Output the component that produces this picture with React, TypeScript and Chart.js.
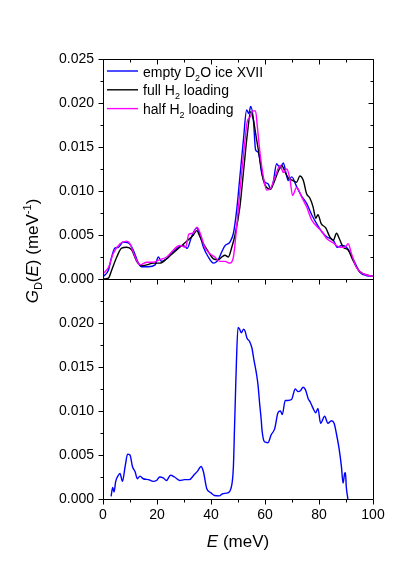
import React, { useEffect, useRef } from "react";
import { Chart, registerables } from "chart.js";

Chart.register(...registerables);

const FONT = '"Liberation Sans", Arial, Helvetica, sans-serif';

// ---- data (E in meV, G_D(E) in meV^-1) ----
const emptyTopE = [0, 2, 3.2, 4.4, 5.7, 7.5, 9.4, 11.2, 13.1, 14.3, 16.8, 19.3, 20.5, 21.7, 23.6, 25.4, 27.9, 29.7, 31.2, 32.8, 34.7, 35.9, 37.2, 39, 40.9, 42.7, 44, 45.2, 47, 48.3, 49.5, 50.7, 52, 53.2, 54, 54.7, 55.7, 56.5, 57.5, 58.8, 60, 61.2, 62.1, 63.1, 64.3, 65.6, 66.8, 67.8, 68.6, 69.9, 71.7, 73.6, 75.4, 77.3, 79.1, 81, 82.8, 85.3, 86.8, 88.4, 90.2, 92.6, 95.1, 97.5, 100];
const emptyTopG = [0.00026, 0.001, 0.0025, 0.0035, 0.0036, 0.0042, 0.0041, 0.0033, 0.0018, 0.0014, 0.0014, 0.0016, 0.0025, 0.002, 0.0023, 0.0029, 0.0036, 0.0038, 0.0035, 0.0048, 0.0058, 0.005, 0.0036, 0.0025, 0.0018, 0.0022, 0.0031, 0.0038, 0.0042, 0.0052, 0.0078, 0.0116, 0.0158, 0.0192, 0.0188, 0.0196, 0.0181, 0.0147, 0.0144, 0.012, 0.011, 0.0108, 0.0102, 0.0111, 0.0131, 0.0126, 0.0132, 0.012, 0.0112, 0.0116, 0.0105, 0.0094, 0.0086, 0.0073, 0.0063, 0.0054, 0.0048, 0.0044, 0.0036, 0.0038, 0.0036, 0.0023, 0.0008, 0.0004, 0.0003];

const fullE = [0, 2, 3.2, 5.1, 6.9, 8.8, 10.6, 12.5, 14.3, 16.2, 18.6, 21, 23.6, 26.1, 28.4, 31, 33.5, 34.7, 35.9, 37.2, 39, 40.9, 42.7, 44, 45.2, 46.4, 47.7, 48.9, 50.7, 52.2, 53.5, 54.7, 55.7, 56.7, 57.9, 59.4, 60.6, 61.9, 63.1, 65, 66.2, 67.5, 68.6, 70.2, 71.7, 72.9, 74.2, 75.4, 76.6, 77.8, 78.8, 79.6, 80.8, 82.5, 84, 85.3, 86.5, 87.5, 89, 90.8, 92.6, 94.6, 96.3, 100];
const fullG = [0, 0.0001, 0.001, 0.0025, 0.0035, 0.0036, 0.0033, 0.002, 0.0015, 0.0016, 0.0018, 0.0018, 0.0023, 0.003, 0.0036, 0.0043, 0.005, 0.0055, 0.0048, 0.004, 0.0031, 0.0023, 0.0022, 0.0025, 0.0027, 0.0025, 0.0036, 0.005, 0.0082, 0.0127, 0.0166, 0.019, 0.0181, 0.0162, 0.014, 0.0112, 0.0104, 0.0102, 0.0108, 0.0123, 0.0129, 0.0121, 0.0115, 0.0112, 0.011, 0.0117, 0.0112, 0.0097, 0.0092, 0.0082, 0.0069, 0.0073, 0.0063, 0.0058, 0.0048, 0.0044, 0.0052, 0.0046, 0.0036, 0.0033, 0.0021, 0.001, 0.0006, 0.0003];

const halfE = [0, 2, 3.8, 6.3, 8.8, 10, 11.9, 13.7, 16.2, 18.6, 21, 23.6, 26.1, 28.4, 30.6, 31.8, 33.3, 34.8, 36.1, 37.7, 39.5, 41.4, 43.3, 45.2, 47, 48.3, 49.5, 50.7, 52.2, 53.5, 54.5, 55.5, 56.5, 57.2, 58.2, 59.4, 60.6, 62.1, 63.7, 65.6, 66.8, 68.1, 69.3, 70.2, 71.7, 73.6, 75.4, 77.3, 79.1, 81, 82.8, 85.3, 87.7, 89.5, 90.8, 92, 93.9, 96.3, 100];
const halfG = [0.0006, 0.0013, 0.0029, 0.004, 0.0043, 0.004, 0.0025, 0.0016, 0.0019, 0.0019, 0.0022, 0.0025, 0.0033, 0.0038, 0.0036, 0.0051, 0.0052, 0.0059, 0.0051, 0.0036, 0.0029, 0.0025, 0.002, 0.002, 0.0018, 0.0025, 0.0059, 0.01, 0.0146, 0.018, 0.0184, 0.0191, 0.0191, 0.0172, 0.0142, 0.0116, 0.0101, 0.0103, 0.0116, 0.0129, 0.0121, 0.0125, 0.0112, 0.0095, 0.0104, 0.0093, 0.0082, 0.0067, 0.006, 0.0054, 0.0046, 0.0041, 0.0036, 0.0036, 0.004, 0.0029, 0.0013, 0.0006, 0.0003];

const emptyBotE = [3.0, 3.6, 4.1, 4.7, 5.7, 6.3, 7.2, 8.2, 9.1, 10, 10.9, 11.9, 12.7, 13.7, 14.9, 16.8, 18.6, 19.8, 21, 22.3, 23.5, 25, 26.5, 28.4, 30.2, 32, 33.6, 35.1, 36.3, 37.2, 38.4, 40, 41.3, 43.1, 44.3, 46.2, 47.4, 48.3, 48.7, 49.0, 49.4, 50, 50.6, 51.2, 52.1, 52.7, 53.3, 54.3, 55.2, 55.9, 56.8, 57.4, 58, 58.6, 58.9, 59.8, 61.1, 62.3, 63.6, 64.8, 65.7, 66.4, 67.5, 68.5, 69.8, 71.2, 72.3, 73.1, 74.1, 75, 76, 76.8, 77.8, 78.8, 79.6, 80.6, 82.1, 83.3, 84.6, 85.6, 86.4, 87.4, 88.3, 88.9, 89.5, 89.8, 90.1, 90.7];
const emptyBotG = [0.0003, 0.0013, 0.0008, 0.002, 0.0027, 0.0029, 0.002, 0.0037, 0.0051, 0.005, 0.0037, 0.0031, 0.0023, 0.0026, 0.0023, 0.0022, 0.002, 0.0021, 0.0025, 0.0024, 0.0021, 0.0027, 0.0025, 0.0021, 0.0022, 0.0022, 0.0027, 0.0032, 0.0037, 0.0031, 0.0012, 0.0007, 0.0004, 0.00035, 0.0006, 0.0007, 0.0012, 0.0037, 0.008, 0.0112, 0.0154, 0.0195, 0.0193, 0.0189, 0.0193, 0.019, 0.0183, 0.0179, 0.0171, 0.0158, 0.0143, 0.013, 0.0109, 0.009, 0.0078, 0.0065, 0.0064, 0.0073, 0.008, 0.0098, 0.01, 0.0096, 0.0112, 0.0112, 0.0113, 0.0125, 0.0122, 0.0123, 0.0127, 0.0124, 0.0114, 0.011, 0.0103, 0.0098, 0.0103, 0.0086, 0.0094, 0.0086, 0.0089, 0.0086, 0.0075, 0.0058, 0.0037, 0.0018, 0.0029, 0.003, 0.0014, 0];

const seriesLabels = ["empty D\u2082O ice XVII", "full H\u2082 loading", "half H\u2082 loading"];
const seriesColors = ["#0000ff", "#000000", "#ff00ff"];
const xTickValues = [0, 10, 20, 30, 40, 50, 60, 70, 80, 90, 100];
const yTickValues = [0, 0.0025, 0.005, 0.0075, 0.01, 0.0125, 0.015, 0.0175, 0.02, 0.0225, 0.025];

// legend parts: [text, isSubscript]
const legendParts: [string, boolean][][] = [
  [["empty D", false], ["2", true], ["O ice XVII", false]],
  [["full H", false], ["2", true], [" loading", false]],
  [["half H", false], ["2", true], [" loading", false]],
];

const pts = (E: number[], G: number[]) => E.map((e, i) => ({ x: e, y: G[i] }));

const framePlugin = {
  id: "frame",
  afterDatasetsDraw(chart: any) {
    const { ctx } = chart;
    const x = chart.scales.x;
    const yT = chart.scales.yTop;
    const yB = chart.scales.yBot;
    const r = (v: number) => Math.round(v) + 0.5;
    const L = r(x.left), R = r(x.right);
    const T = r(yT.top), M = r(yT.bottom), B = r(yB.bottom);
    ctx.save();
    ctx.strokeStyle = "#000";
    ctx.lineWidth = 1;
    ctx.beginPath();
    ctx.rect(L, T, R - L, B - T);
    ctx.moveTo(L, M);
    ctx.lineTo(R, M);
    yTickValues.forEach((v, i) => {
      const len = i % 2 === 0 ? 5 : 3;
      const pt = r(yT.getPixelForValue(v));
      ctx.moveTo(L, pt); ctx.lineTo(L - len, pt);
      ctx.moveTo(R, pt); ctx.lineTo(R - len, pt);
      const pb = r(yB.getPixelForValue(v));
      ctx.moveTo(L, pb); ctx.lineTo(L - len, pb);
    });
    xTickValues.forEach((v, i) => {
      const len = i % 2 === 0 ? 5 : 3;
      const px = r(x.getPixelForValue(v));
      ctx.moveTo(px, B); ctx.lineTo(px, B + len);
      ctx.moveTo(px, M); ctx.lineTo(px, M + len);
      ctx.moveTo(px, T); ctx.lineTo(px, T + len);
    });
    ctx.stroke();

    // legend
    const lx0 = x.left + 4, lx1 = x.left + 35, tx = x.left + 40;
    legendParts.forEach((parts, i) => {
      const ly = yT.top + 12 + i * 18.8;
      ctx.strokeStyle = seriesColors[i];
      ctx.lineWidth = 1.4;
      ctx.beginPath();
      ctx.moveTo(lx0, ly); ctx.lineTo(lx1, ly);
      ctx.stroke();
      let cx = tx;
      ctx.fillStyle = "#000";
      ctx.textBaseline = "alphabetic";
      ctx.textAlign = "left";
      parts.forEach(([t, sub]) => {
        ctx.font = sub ? `9px ${FONT}` : `14px ${FONT}`;
        ctx.fillText(t, cx, ly + 5.5 + (sub ? 4 : 0));
        cx += ctx.measureText(t).width;
      });
    });

    // y title
    const yParts: [string, string, number][] = [
      ["G", `italic 17px ${FONT}`, 0],
      ["D", `11px ${FONT}`, 4],
      ["(", `17px ${FONT}`, 0],
      ["E", `italic 17px ${FONT}`, 0],
      [") (meV", `17px ${FONT}`, 0],
      ["-1", `11px ${FONT}`, -7],
      [")", `17px ${FONT}`, 0],
    ];
    let total = 0;
    yParts.forEach(([t, f]) => { ctx.font = f; total += ctx.measureText(t).width; });
    ctx.save();
    ctx.translate(38, 251);
    ctx.rotate(-Math.PI / 2);
    let cx2 = -total / 2;
    yParts.forEach(([t, f, dy]) => {
      ctx.font = f;
      ctx.fillText(t, cx2, dy);
      cx2 += ctx.measureText(t).width;
    });
    ctx.restore();

    // x title
    const xParts: [string, string][] = [["E", `italic 17px ${FONT}`], [" (meV)", `17px ${FONT}`]];
    let tw = 0;
    xParts.forEach(([t, f]) => { ctx.font = f; tw += ctx.measureText(t).width; });
    let cx3 = (x.left + x.right) / 2 - tw / 2;
    xParts.forEach(([t, f]) => {
      ctx.font = f;
      ctx.fillText(t, cx3, 547);
      cx3 += ctx.measureText(t).width;
    });
    ctx.restore();
  },
};

export default function App() {
  const ref = useRef<HTMLCanvasElement | null>(null);
  useEffect(() => {
    if (!ref.current) return;
    const common = { pointRadius: 0, borderWidth: 1.4, fill: false, cubicInterpolationMode: "monotone" as const };
    const chart = new Chart(ref.current, {
      type: "line",
      data: {
        datasets: [
          { label: seriesLabels[0], data: pts(emptyTopE, emptyTopG), borderColor: seriesColors[0], yAxisID: "yTop", order: 3, ...common },
          { label: seriesLabels[1], data: pts(fullE, fullG), borderColor: seriesColors[1], yAxisID: "yTop", order: 2, ...common },
          { label: seriesLabels[2], data: pts(halfE, halfG), borderColor: seriesColors[2], yAxisID: "yTop", order: 1, ...common },
          { label: seriesLabels[0] + " (bottom)", data: pts(emptyBotE, emptyBotG), borderColor: seriesColors[0], yAxisID: "yBot", order: 0, ...common },
        ],
      },
      options: {
        responsive: false,
        animation: false,
        devicePixelRatio: 1,
        layout: { padding: { left: 43, right: 42, top: 59, bottom: 49 } },
        plugins: { legend: { display: false }, tooltip: { enabled: false }, title: { display: false } },
        scales: {
          x: {
            type: "linear",
            min: 0,
            max: 100,
            grid: { display: false, drawTicks: false },
            border: { display: false },
            ticks: { stepSize: 20, padding: 8, color: "#000", font: { family: FONT, size: 14 }, maxRotation: 0 },
            afterFit: (s: any) => { s.height = 40; },
          },
          yBot: {
            type: "linear",
            position: "left",
            stack: "panels",
            stackWeight: 1,
            min: 0,
            max: 0.025,
            grid: { display: false, drawTicks: false },
            border: { display: false },
            ticks: {
              stepSize: 0.005, padding: 9, color: "#000", font: { family: FONT, size: 14 },
              callback: (v: any) => (Number(v) > 0.0249 ? "" : Number(v).toFixed(3)),
            },
            afterFit: (s: any) => { s.width = 60; },
          },
          yTop: {
            type: "linear",
            position: "left",
            stack: "panels",
            stackWeight: 1,
            min: 0,
            max: 0.025,
            grid: { display: false, drawTicks: false },
            border: { display: false },
            ticks: {
              stepSize: 0.005, padding: 9, color: "#000", font: { family: FONT, size: 14 },
              callback: (v: any) => Number(v).toFixed(3),
            },
            afterFit: (s: any) => { s.width = 60; },
          },
        },
      },
      plugins: [framePlugin],
    });
    return () => chart.destroy();
  }, []);
  return (
    <div style={{ position: "fixed", left: 0, top: 0, width: 415, height: 588, background: "#fff" }}>
      <canvas ref={ref} width={415} height={588} style={{ display: "block", width: 415, height: 588 }} />
    </div>
  );
}
